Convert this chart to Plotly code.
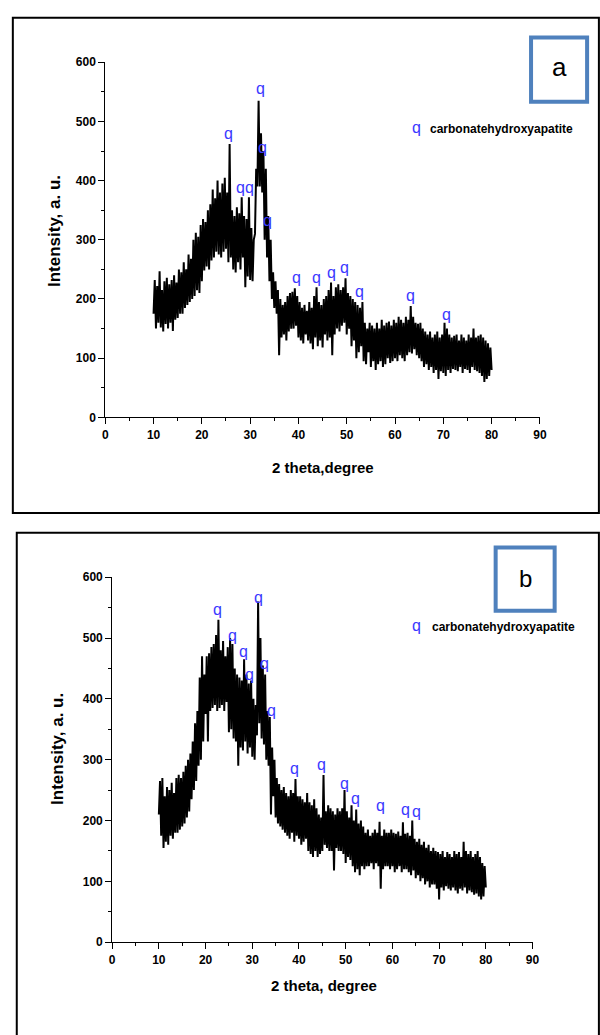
import plotly.graph_objects as go

# ---------------- data ----------------
# 2-theta grid: 10..80 deg, 0.25 deg step
two_theta = [10 + 0.25 * i for i in range(281)]

# Panel a intensities (4 readings per degree)
intensity_a = [
    175, 232, 150, 222,  # 10
    160, 247, 152, 215,  # 11
    145, 230, 158, 236,  # 12
    150, 225, 160, 232,  # 13
    146, 240, 165, 228,  # 14
    168, 250, 175, 245,  # 15
    175, 262, 185, 250,  # 16
    190, 275, 195, 268,  # 17
    200, 300, 205, 312,  # 18
    215, 305, 210, 325,  # 19
    230, 335, 248, 330,  # 20
    255, 350, 250, 360,  # 21
    265, 385, 270, 370,  # 22
    280, 400, 275, 380,  # 23
    270, 395, 280, 405,  # 24
    285, 380, 262, 462,  # 25
    270, 350, 250, 340,  # 26
    245, 355, 262, 345,  # 27
    250, 372, 270, 340,  # 28
    220, 335, 238, 372,  # 29
    232, 320, 230, 300,  # 30
    310, 420, 390, 535,  # 31
    390, 480, 380, 450,  # 32
    300, 420, 270, 340,  # 33
    230, 300, 200, 245,  # 34
    185, 230, 175, 215,  # 35
    105, 200, 135, 190,  # 36
    140, 195, 130, 205,  # 37
    145, 210, 150, 212,  # 38
    150, 218, 155, 205,  # 39
    135, 195, 130, 185,  # 40
    125, 190, 140, 180,  # 41
    130, 195, 125, 185,  # 42
    115, 205, 135, 220,  # 43
    120, 195, 130, 190,  # 44
    118, 200, 140, 205,  # 45
    130, 215, 135, 228,  # 46
    105, 205, 140, 220,  # 47
    150, 225, 145, 215,  # 48
    155, 220, 160, 235,  # 49
    140, 210, 150, 205,  # 50
    120, 200, 130, 195,  # 51
    100, 190, 110, 185,  # 52
    120, 195, 95, 160,   # 53
    90, 150, 110, 160,   # 54
    85, 155, 95, 150,    # 55
    80, 160, 90, 150,    # 56
    95, 165, 85, 155,    # 57
    90, 160, 100, 162,   # 58
    92, 155, 95, 165,    # 59
    100, 160, 95, 170,   # 60
    105, 165, 100, 160,  # 61
    95, 170, 105, 165,   # 62
    110, 188, 108, 170,  # 63
    115, 160, 105, 158,  # 64
    100, 160, 95, 150,   # 65
    85, 145, 90, 140,    # 66
    80, 145, 85, 135,    # 67
    75, 140, 80, 145,    # 68
    65, 135, 78, 140,    # 69
    75, 160, 70, 150,    # 70
    80, 140, 75, 135,    # 71
    82, 138, 80, 140,    # 72
    78, 130, 85, 140,    # 73
    75, 135, 82, 130,    # 74
    80, 140, 75, 135,    # 75
    85, 150, 80, 135,    # 76
    78, 138, 75, 140,    # 77
    70, 135, 60, 130,    # 78
    65, 125, 70, 118,    # 79
    80,                  # 80
]

# Panel b intensities (4 readings per degree)
intensity_b = [
    210, 265, 175, 270,  # 10
    155, 240, 165, 255,  # 11
    160, 250, 175, 262,  # 12
    170, 245, 180, 270,  # 13
    180, 275, 185, 270,  # 14
    190, 280, 195, 290,  # 15
    205, 300, 215, 310,  # 16
    235, 330, 250, 360,  # 17
    265, 380, 290, 435,  # 18
    300, 470, 330, 440,  # 19
    375, 470, 330, 475,  # 20
    380, 485, 385, 490,  # 21
    390, 505, 380, 530,  # 22
    385, 480, 390, 495,  # 23
    380, 470, 395, 485,  # 24
    345, 500, 350, 490,  # 25
    335, 450, 330, 440,  # 26
    290, 435, 320, 430,  # 27
    315, 465, 330, 440,  # 28
    310, 425, 320, 430,  # 29
    305, 400, 300, 390,  # 30
    340, 560, 360, 500,  # 31
    335, 455, 325, 440,  # 32
    300, 380, 290, 370,  # 33
    210, 320, 240, 300,  # 34
    205, 270, 195, 260,  # 35
    190, 250, 185, 255,  # 36
    180, 245, 175, 240,  # 37
    170, 250, 180, 245,  # 38
    165, 268, 175, 240,  # 39
    170, 240, 160, 235,  # 40
    165, 230, 170, 245,  # 41
    150, 230, 145, 225,  # 42
    140, 235, 150, 220,  # 43
    140, 210, 145, 205,  # 44
    150, 275, 160, 215,  # 45
    155, 225, 150, 220,  # 46
    150, 215, 118, 210,  # 47
    155, 220, 150, 215,  # 48
    150, 220, 145, 250,  # 49
    130, 215, 140, 205,  # 50
    135, 225, 125, 200,  # 51
    115, 218, 120, 195,  # 52
    110, 200, 125, 190,  # 53
    120, 180, 125, 185,  # 54
    125, 175, 130, 180,  # 55
    120, 185, 130, 180,  # 56
    125, 198, 88, 175,   # 57
    120, 185, 125, 180,  # 58
    125, 180, 120, 185,  # 59
    125, 180, 115, 178,  # 60
    120, 182, 125, 175,  # 61
    115, 197, 120, 178,  # 62
    120, 180, 115, 175,  # 63
    110, 200, 118, 170,  # 64
    105, 165, 110, 170,  # 65
    100, 160, 105, 165,  # 66
    95, 155, 100, 160,   # 67
    90, 150, 95, 155,    # 68
    95, 150, 88, 148,    # 69
    70, 145, 90, 150,    # 70
    85, 140, 92, 148,    # 71
    88, 145, 85, 140,    # 72
    90, 150, 85, 145,    # 73
    80, 148, 88, 140,    # 74
    85, 165, 90, 150,    # 75
    80, 145, 85, 150,    # 76
    82, 140, 78, 145,    # 77
    80, 150, 75, 140,    # 78
    70, 130, 75, 125,    # 79
    90,                  # 80
]

# Peak markers ("q" = carbonatehydroxyapatite)
peaks_a_x = [25.6, 32.2, 32.6, 27.9, 29.9, 33.5, 39.5, 43.7, 46.8, 49.5, 52.6, 63.3, 70.6]
peaks_a_y = [477, 552, 453, 385, 385, 329, 233, 233, 241, 250, 210, 202, 171]
peaks_b_x = [22.5, 25.8, 28.2, 29.4, 31.4, 32.6, 34.2, 39.1, 44.9, 49.8, 52.2, 57.4, 62.8, 65.1]
peaks_b_y = [544, 501, 475, 437, 564, 455, 378, 282, 289, 258, 233, 222, 214, 212]

x_ticks = [0, 10, 20, 30, 40, 50, 60, 70, 80, 90]
y_ticks = [0, 100, 200, 300, 400, 500, 600]

# ---------------- layout helpers ----------------
W, H = 600, 1035
def px(x):
    return x / W
def py(y):
    return 1 - y / H

FONT = "Liberation Sans, Arial, Helvetica, sans-serif"
QBLUE = "#3a3aff"
BOXBLUE = "#4f81bd"

fig = go.Figure()
fig.add_trace(go.Scatter(x=two_theta, y=intensity_a, mode="lines",
                         line=dict(color="black", width=2), xaxis="x", yaxis="y",
                         showlegend=False, hoverinfo="skip"))
fig.add_trace(go.Scatter(x=two_theta, y=intensity_b, mode="lines",
                         line=dict(color="black", width=2), xaxis="x2", yaxis="y2",
                         showlegend=False, hoverinfo="skip"))

def xax(domain):
    return dict(domain=domain, range=[0, 90], tickmode="array", tickvals=x_ticks,
                ticks="outside", ticklen=6, tickwidth=1, tickcolor="black",
                minor=dict(tickmode="array", tickvals=[5, 15, 25, 35, 45, 55, 65, 75, 85],
                           ticks="outside", ticklen=3, tickcolor="black", tickwidth=1),
                showline=True, linecolor="black", linewidth=1, showgrid=False,
                zeroline=False, fixedrange=True,
                tickfont=dict(family=FONT, size=12, color="black", weight="bold"))

def yax(domain, anchor):
    return dict(domain=domain, range=[0, 600], tickmode="array", tickvals=y_ticks,
                ticks="outside", ticklen=6, tickwidth=1, tickcolor="black",
                minor=dict(tickmode="array", tickvals=[50, 150, 250, 350, 450, 550],
                           ticks="outside", ticklen=3, tickcolor="black", tickwidth=1),
                showline=True, linecolor="black", linewidth=1, showgrid=False,
                zeroline=False, fixedrange=True, anchor=anchor,
                tickfont=dict(family=FONT, size=12, color="black", weight="bold"))

xa = xax([px(104), px(546)]); xa["anchor"] = "y"
xb = xax([px(111), px(538.5)]); xb["anchor"] = "y2"

fig.update_layout(
    width=W, height=H, margin=dict(l=0, r=0, t=0, b=0),
    paper_bgcolor="white", plot_bgcolor="white", showlegend=False,
    xaxis=xa, yaxis=yax([py(416), py(56)], "x"),
    xaxis2=xb, yaxis2=yax([py(948), py(578)], "x2"),
)

shapes = [
    # outer frames
    dict(type="rect", xref="paper", yref="paper", x0=px(10), x1=px(606), y0=py(513), y1=py(11),
         line=dict(color="black", width=2)),
    dict(type="rect", xref="paper", yref="paper", x0=px(14), x1=px(606), y0=py(1045), y1=py(533),
         line=dict(color="black", width=2)),
    # label boxes
    dict(type="rect", xref="paper", yref="paper", x0=px(537), x1=px(594), y0=py(96), y1=py(31),
         line=dict(color=BOXBLUE, width=4), fillcolor="white"),
    dict(type="rect", xref="paper", yref="paper", x0=px(501), x1=px(561), y0=py(612), y1=py(548),
         line=dict(color=BOXBLUE, width=4), fillcolor="white"),
]
fig.update_layout(shapes=shapes)

ann = []
def text(x, y, s, size, bold=False, color="black", angle=0, xanchor="center"):
    ann.append(dict(x=px(x), y=py(y), xref="paper", yref="paper", text=s, showarrow=False,
                    textangle=angle, xanchor=xanchor, yanchor="middle",
                    font=dict(family=FONT, size=size, color=color,
                              weight="bold" if bold else "normal")))

# panel labels
text(565.5, 61, "a", 26)
text(531, 579, "b", 24)
# legends
text(420, 122, "q", 16, color=QBLUE)
text(432, 124, "carbonatehydroxyapatite", 12, bold=True, xanchor="left")
text(420, 627, "q", 16, color=QBLUE)
text(434, 629, "carbonatehydroxyapatite", 12, bold=True, xanchor="left")
# axis titles
text(53, 227, "Intensity, a. u.", 17, bold=True, angle=-90)
text(325, 467, "2 theta,degree", 15, bold=True)
text(56, 752, "Intensity, a. u.", 17, bold=True, angle=-90)
text(326, 992, "2 theta, degree", 15, bold=True)

# peak markers
for xs, ys, xr, yr in [(peaks_a_x, peaks_a_y, "x", "y"), (peaks_b_x, peaks_b_y, "x2", "y2")]:
    for xv, yv in zip(xs, ys):
        ann.append(dict(x=xv, y=yv, xref=xr, yref=yr, text="q", showarrow=False,
                        xanchor="center", yanchor="middle", yshift=2,
                        font=dict(family=FONT, size=16, color=QBLUE)))

fig.update_layout(annotations=ann)
fig.write_html("out.html")
